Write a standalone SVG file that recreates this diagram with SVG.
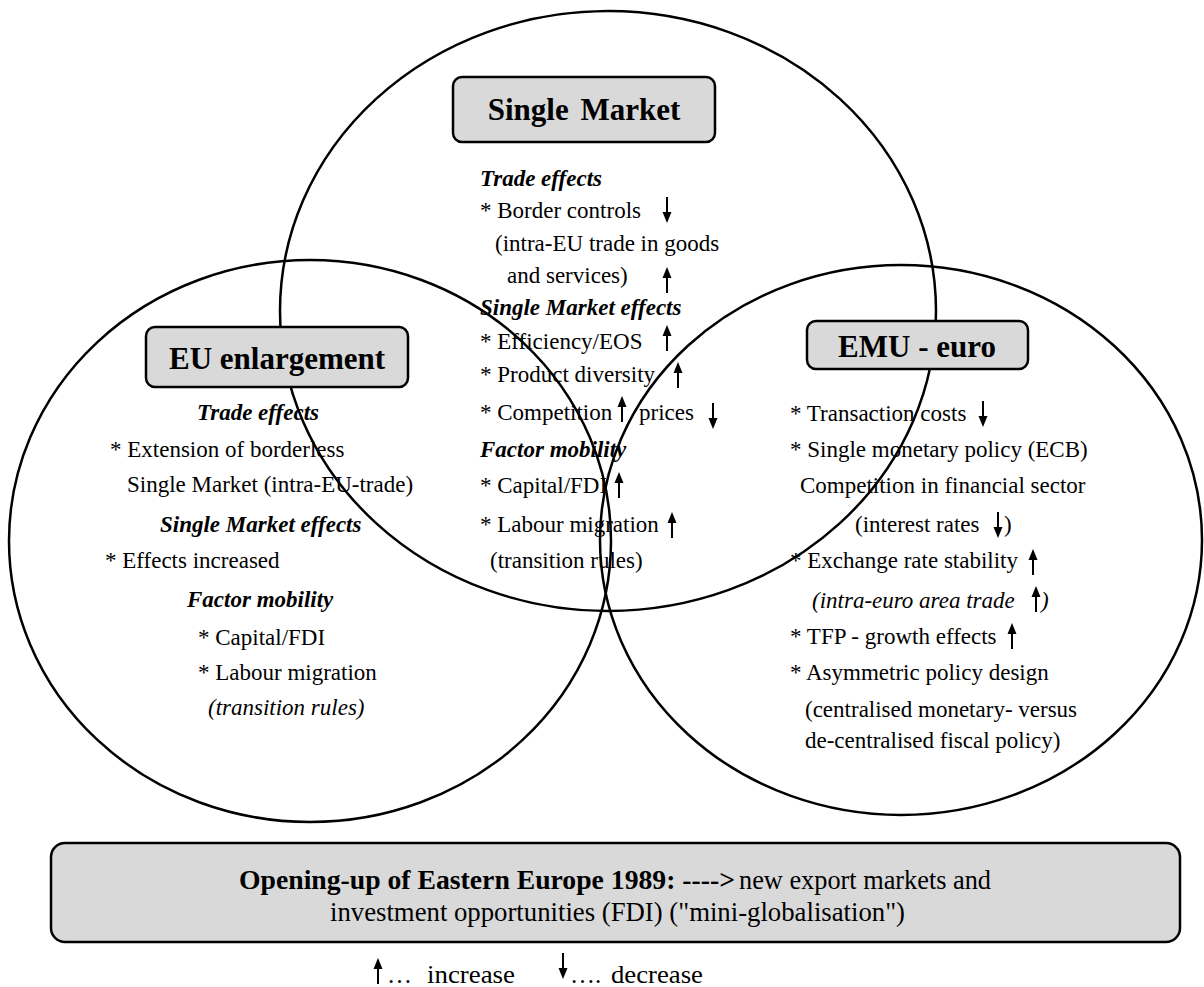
<svg xmlns="http://www.w3.org/2000/svg" xmlns:xlink="http://www.w3.org/1999/xlink" width="1204" height="987" viewBox="0 0 1204 987">
<style>
.ell{fill:none;stroke:#000;stroke-width:2.5}
.box{fill:#d9d9d9;stroke:#000;stroke-width:2.5}
.t{font-family:"Liberation Serif","Times New Roman",serif;font-size:23px;fill:#000}
.bi{font-family:"Liberation Serif","Times New Roman",serif;font-size:23px;font-weight:bold;font-style:italic;fill:#000}
.it{font-family:"Liberation Serif","Times New Roman",serif;font-size:23px;font-style:italic;fill:#000}
.title{font-family:"Liberation Serif","Times New Roman",serif;font-size:31px;font-weight:bold;fill:#000;text-anchor:middle}
.bt{font-family:"Liberation Serif","Times New Roman",serif;font-size:27px;fill:#000}
.lg{font-family:"Liberation Serif","Times New Roman",serif;font-size:25px;fill:#000}
</style>
<defs>
<g id="up"><line x1="0" y1="8" x2="0" y2="26" stroke="#000" stroke-width="2"/><path d="M0,0 L-4.5,11 L4.5,11 Z" fill="#000"/></g>
<g id="down"><line x1="0" y1="0" x2="0" y2="18" stroke="#000" stroke-width="2"/><path d="M0,26 L-4.5,15 L4.5,15 Z" fill="#000"/></g>
</defs>
<rect width="1204" height="987" fill="#fff"/>
<g id="circles">
<ellipse class="ell" cx="608" cy="311" rx="328" ry="300"/>
<ellipse class="ell" cx="310" cy="541" rx="301" ry="281"/>
<ellipse class="ell" cx="901" cy="540" rx="301" ry="275"/>
</g>
<g id="single-market">
<rect class="box" x="453" y="77" width="262" height="65" rx="9"/>
<text class="title" x="584" y="120" word-spacing="4">Single Market</text>
<text class="bi" x="480" y="186">Trade effects</text>
<text class="t" x="480" y="218">* Border controls</text>
<use xlink:href="#down" x="667" y="197"/>
<text class="t" x="495" y="251">(intra-EU trade in goods</text>
<text class="t" x="507" y="283">and services)</text>
<use xlink:href="#up" x="667" y="267"/>
<text class="bi" x="480" y="315">Single Market effects</text>
<text class="t" x="480" y="349">* Efficiency/EOS</text>
<use xlink:href="#up" x="667" y="325"/>
<text class="t" x="480" y="382">* Product diversity</text>
<use xlink:href="#up" x="678" y="362"/>
<text class="t" x="480" y="420">* Competition</text>
<use xlink:href="#up" x="622" y="396"/>
<text class="t" x="639" y="420">prices</text>
<use xlink:href="#down" x="713" y="403"/>
<text class="bi" x="480" y="457">Factor mobility</text>
<text class="t" x="480" y="493">* Capital/FDI</text>
<use xlink:href="#up" x="619" y="472"/>
<text class="t" x="480" y="532">* Labour migration</text>
<use xlink:href="#up" x="672" y="512"/>
<text class="t" x="490" y="568">(transition rules)</text>
</g>
<g id="eu-enlargement">
<rect class="box" x="146" y="327" width="262" height="60" rx="9"/>
<text class="title" x="277" y="369">EU enlargement</text>
<text class="bi" x="197" y="420">Trade effects</text>
<text class="t" x="110" y="457">* Extension of borderless</text>
<text class="t" x="127" y="492">Single Market (intra-EU-trade)</text>
<text class="bi" x="160" y="532">Single Market effects</text>
<text class="t" x="105" y="568">* Effects increased</text>
<text class="bi" x="187" y="607">Factor mobility</text>
<text class="t" x="198" y="645">* Capital/FDI</text>
<text class="t" x="198" y="680">* Labour migration</text>
<text class="it" x="208" y="715">(transition rules)</text>
</g>
<g id="emu-euro">
<rect class="box" x="807" y="321" width="221" height="48" rx="9"/>
<text class="title" x="917" y="357">EMU - euro</text>
<text class="t" x="790" y="421">* Transaction costs</text>
<use xlink:href="#down" x="983" y="401"/>
<text class="t" x="790" y="457">* Single monetary policy (ECB)</text>
<text class="t" x="800" y="493">Competition in financial sector</text>
<text class="t" x="855" y="532">(interest rates</text>
<use xlink:href="#down" x="998" y="512"/>
<text class="t" x="1004" y="532">)</text>
<text class="t" x="790" y="568">* Exchange rate stability</text>
<use xlink:href="#up" x="1033" y="549"/>
<text class="it" x="812" y="608">(intra-euro area trade</text>
<use xlink:href="#up" x="1036" y="586"/>
<text class="it" x="1041" y="608">)</text>
<text class="t" x="790" y="644">* TFP - growth effects</text>
<use xlink:href="#up" x="1012" y="623"/>
<text class="t" x="790" y="680">* Asymmetric policy design</text>
<text class="t" x="805" y="717">(centralised monetary- versus</text>
<text class="t" x="805" y="748">de-centralised fiscal policy)</text>
</g>
<g id="opening-up">
<rect class="box" x="51" y="843" width="1129" height="99" rx="14"/>
<text class="bt" x="239" y="889" font-weight="bold" textLength="496" lengthAdjust="spacingAndGlyphs">Opening-up  of Eastern Europe 1989: ----&gt;</text>
<text class="bt" x="739" y="889" textLength="252" lengthAdjust="spacingAndGlyphs">new export markets and</text>
<text class="bt" x="330" y="921" textLength="575" lengthAdjust="spacingAndGlyphs">investment  opportunities (FDI) ("mini-globalisation")</text>
</g>
<g id="legend">
<use xlink:href="#up" x="378" y="958"/>
<text class="lg" x="387" y="983">…</text>
<text class="lg" x="427" y="983" textLength="88" lengthAdjust="spacingAndGlyphs">increase</text>
<use xlink:href="#down" x="563" y="953"/>
<text class="lg" x="570" y="983">….</text>
<text class="lg" x="611" y="983" textLength="92" lengthAdjust="spacingAndGlyphs">decrease</text>
</g>
</svg>
